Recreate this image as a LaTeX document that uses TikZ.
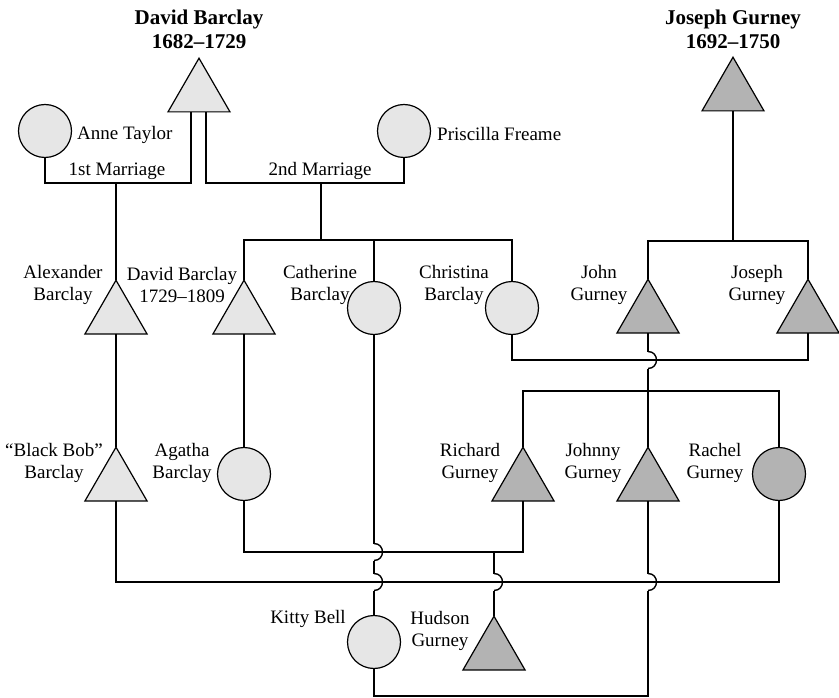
\documentclass[tikz,border=0pt]{standalone}
\usepackage{fontspec}
\setmainfont{Liberation Serif}
\usetikzlibrary{shapes.geometric,calc}
\definecolor{barclayfill}{RGB}{230,230,230}
\definecolor{gurneyfill}{RGB}{179,179,179}
\tikzset{
  wire/.style={line width=1.2pt, line join=miter},
  hopwire/.style={line width=1.4pt},
  male/.style={regular polygon, regular polygon sides=3, minimum size=71.6pt,
    inner sep=0pt, outer sep=0pt, draw, line width=1.2pt},
  female/.style={circle, minimum size=53pt, inner sep=0pt, outer sep=0pt,
    draw, line width=1.2pt},
  barclay/.style={fill=barclayfill},
  gurney/.style={fill=gurneyfill},
  lbl/.style={align=center, inner sep=0pt, font=\fontsize{19}{22}\selectfont},
  ttl/.style={align=center, inner sep=0pt, font=\bfseries\fontsize{21}{24}\selectfont},
}
% a line crossing over a horizontal one: semicircle bulging to the right
\newcommand{\hopover}[2]{%
  \draw[hopwire] (#1) .. controls +(11.3,0) and +(11.3,0) .. (#2);}
\begin{document}
\begin{tikzpicture}[x=1pt,y=-1pt]
\useasboundingbox (0,0) rectangle (839,698);

% first generation
\node[male,barclay] (DB) at (199,94) {};
\node[male,gurney] (JG) at (733,93) {};
\node[female,barclay] (AT) at (45,131) {};
\node[female,barclay] (PF) at (404,131) {};
\node[ttl] (tDB) at (199,29) {David Barclay\\1682–1729};
\node[ttl] (tJG) at (733,29) {Joseph Gurney\\1692–1750};
\node[lbl,anchor=west] (lAT) at (77,135) {Anne Taylor};
\node[lbl,anchor=west] (lPF) at (437,134) {Priscilla Freame};
\node[lbl] (lm1) at (117,171) {1st Marriage};
\node[lbl] (lm2) at (320,171) {2nd Marriage};

% second generation
\node[male,barclay] (AB) at (116,316) {};
\node[male,barclay] (DB2) at (244,316) {};
\node[female,barclay] (CB) at (374,308) {};
\node[female,barclay] (ChB) at (512,308) {};
\node[male,gurney] (JoG) at (648,315) {};
\node[male,gurney] (JsG) at (808,315) {};
\node[lbl] (lAB) at (63,285) {Alexander\\Barclay};
\node[lbl] (lDB2) at (182,285) {David Barclay\\1729–1809};
\node[lbl] (lCB) at (320,285) {Catherine\\Barclay};
\node[lbl] (lChB) at (454,285) {Christina\\Barclay};
\node[lbl] (lJoG) at (599,285) {John\\Gurney};
\node[lbl] (lJsG) at (757,285) {Joseph\\Gurney};

% third generation
\node[male,barclay] (BB) at (116,483) {};
\node[female,barclay] (AgB) at (244,474) {};
\node[male,gurney] (RG) at (523,483) {};
\node[male,gurney] (JnG) at (648,483) {};
\node[female,gurney] (RaG) at (779,474) {};
\node[lbl] (lBB) at (54,463) {“Black Bob”\\Barclay};
\node[lbl] (lAgB) at (182,463) {Agatha\\Barclay};
\node[lbl] (lRG) at (470,463) {Richard\\Gurney};
\node[lbl] (lJnG) at (593,463) {Johnny\\Gurney};
\node[lbl] (lRaG) at (715,463) {Rachel\\Gurney};

% fourth generation
\node[female,barclay] (KB) at (374,642) {};
\node[male,gurney] (HG) at (494,652) {};
\node[lbl] (lKB) at (308,619) {Kitty Bell};
\node[lbl] (lHG) at (440,631) {Hudson\\Gurney};

% marriage and sibling lines
\coordinate (m1) at (116,183);
\coordinate (m2) at (321,183);
\coordinate (s2) at (321,240);
\coordinate (s3) at (733,241);
\coordinate (mCJ) at (512,360);
\coordinate (s4) at (648,391);
\coordinate (mAR) at (244,552);
\coordinate (cAR) at (494,552);
\coordinate (mBR) at (116,582);
\coordinate (mKJ) at (374,696);

% ends of the hops where lines cross
\coordinate (hJoa) at ($(JoG.side 2 |- mCJ)+(0,-8.5)$);
\coordinate (hJob) at ($(JoG.side 2 |- mCJ)+(0,8.5)$);
\coordinate (hC1a) at ($(CB.south |- mAR)+(0,-8.5)$);
\coordinate (hC1b) at ($(CB.south |- mAR)+(0,8.5)$);
\coordinate (hC2a) at ($(CB.south |- mBR)+(0,-8.5)$);
\coordinate (hC2b) at ($(CB.south |- mBR)+(0,8.5)$);
\coordinate (hHa) at ($(cAR |- mBR)+(0,-8.5)$);
\coordinate (hHb) at ($(cAR |- mBR)+(0,8.5)$);
\coordinate (hJna) at ($(JnG.side 2 |- mBR)+(0,-8.5)$);
\coordinate (hJnb) at ($(JnG.side 2 |- mBR)+(0,8.5)$);

\draw[wire] ([xshift=-8pt]DB.side 2) |- (m1) -| (AT.south);
\draw[wire] ([xshift=7pt]DB.side 2) |- (m2) -| (PF.south);
\draw[wire] (m1) -- (AB.corner 1);
\draw[wire] (m2) -- (s2);
\draw[wire] (DB2.corner 1) |- (s2) -| (ChB.north);
\draw[wire] (CB.north) -- (CB.north |- s2);
\draw[wire] (JG.side 2) -- (s3);
\draw[wire] (JoG.corner 1) |- (s3) -| (JsG.corner 1);

\draw[wire] (AB.side 2) -- (BB.corner 1);
\draw[wire] (DB2.side 2) -- (AgB.north);
\draw[wire] (ChB.south) |- (mCJ) -| (JsG.side 2);
\draw[wire] (JoG.side 2) -- (hJoa);
\hopover{hJoa}{hJob}
\draw[wire] (hJob) -- (s4);
\draw[wire] (RG.corner 1) |- (s4) -| (RaG.north);
\draw[wire] (s4) -- (JnG.corner 1);

\draw[wire] (CB.south) -- (hC1a);
\hopover{hC1a}{hC1b}
\draw[wire] (hC1b) -- (hC2a);
\hopover{hC2a}{hC2b}
\draw[wire] (hC2b) -- (KB.north);
\draw[wire] (AgB.south) |- (mAR) -| (RG.side 2);
\draw[wire] (cAR) -- (hHa);
\hopover{hHa}{hHb}
\draw[wire] (hHb) -- (HG.corner 1);
\draw[wire] (BB.side 2) |- (mBR) -| (RaG.south);
\draw[wire] (JnG.side 2) -- (hJna);
\hopover{hJna}{hJnb}
\draw[wire] (hJnb) |- (mKJ) -- (KB.south);
\end{tikzpicture}
\end{document}
